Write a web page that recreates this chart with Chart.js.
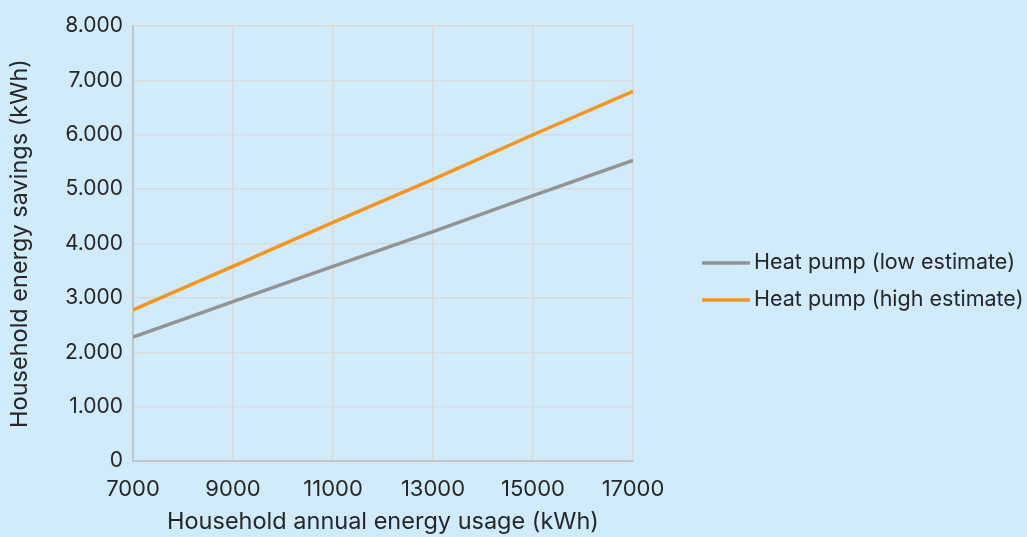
<!DOCTYPE html>
<html>
<head>
<meta charset="utf-8">
<script src="https://cdn.jsdelivr.net/npm/chart.js@4/dist/chart.umd.min.js"></script>
<style>
  html, body { margin: 0; padding: 0; background: #D0ECFC; }
  #wrap { width: 1027px; height: 537px; position: relative; }
</style>
</head>
<body>
<div id="wrap"><canvas id="chart" width="1027" height="537"></canvas></div>
<script>
// Household annual energy usage (kWh) on the x axis
const usage = [7000, 9000, 11000, 13000, 15000, 17000];
// Estimated savings (kWh) for each usage level
const lowEstimate = [2280, 2930, 3580, 4220, 4880, 5530];
const highEstimate = [2780, 3580, 4390, 5180, 6000, 6800];
const seriesNames = ['Heat pump (low estimate)', 'Heat pump (high estimate)'];
const xTicks = [7000, 9000, 11000, 13000, 15000, 17000];
const yTicks = [0, 1000, 2000, 3000, 4000, 5000, 6000, 7000, 8000];

const FONT = 'Inter, "Noto Sans", sans-serif';
const TEXT = '#262626';

const toPoints = vals => usage.map((x, i) => ({ x, y: vals[i] }));

// Legend drawn to the right of the plot: short line sample + label
const sideLegend = {
  id: 'sideLegend',
  afterDraw(chart) {
    const { ctx } = chart;
    const x0 = 702, lineLen = 48, rowY = [263, 300];
    ctx.save();
    chart.data.datasets.forEach((ds, i) => {
      const y = rowY[i];
      ctx.strokeStyle = ds.borderColor;
      ctx.lineWidth = 3.5;
      ctx.beginPath();
      ctx.moveTo(x0, y);
      ctx.lineTo(x0 + lineLen, y);
      ctx.stroke();
      ctx.fillStyle = TEXT;
      ctx.font = '21.5px ' + FONT;
      ctx.textBaseline = 'middle';
      ctx.textAlign = 'left';
      ctx.fillText(ds.label, x0 + lineLen + 4, y);
    });
    ctx.restore();
  }
};

new Chart(document.getElementById('chart'), {
  type: 'line',
  data: {
    datasets: [
      {
        label: seriesNames[0],
        data: toPoints(lowEstimate),
        borderColor: '#939393',
        borderWidth: 3.5,
        pointRadius: 0,
        fill: false,
        tension: 0
      },
      {
        label: seriesNames[1],
        data: toPoints(highEstimate),
        borderColor: '#F7941D',
        borderWidth: 3.5,
        pointRadius: 0,
        fill: false,
        tension: 0
      }
    ]
  },
  plugins: [sideLegend],
  options: {
    responsive: false,
    animation: false,
    layout: { padding: { left: 0, top: 26, right: 394, bottom: 0 } },
    plugins: {
      legend: { display: false },
      tooltip: { enabled: false }
    },
    scales: {
      x: {
        type: 'linear',
        min: 7000,
        max: 17000,
        afterBuildTicks: s => { s.ticks = xTicks.map(v => ({ value: v })); },
        afterFit: s => { s.height = 76; },
        grid: { color: '#DADADA', lineWidth: 1.5, drawTicks: false },
        border: { color: '#C4C4C4', width: 2 },
        ticks: {
          padding: 15,
          color: TEXT,
          font: { family: FONT, size: 22 },
          maxRotation: 0,
          callback: v => String(v)
        },
        title: {
          display: true,
          text: 'Household annual energy usage (kWh)',
          color: TEXT,
          font: { family: FONT, size: 23.5 },
          padding: { top: 0, bottom: 1 }
        }
      },
      y: {
        min: 0,
        max: 8000,
        afterBuildTicks: s => { s.ticks = yTicks.map(v => ({ value: v })); },
        afterFit: s => { s.width = 133; },
        grid: { color: '#DADADA', lineWidth: 1.5, drawTicks: false },
        border: { color: '#C4C4C4', width: 2 },
        ticks: {
          padding: 10,
          color: TEXT,
          font: { family: FONT, size: 21 },
          callback: v => v.toLocaleString('de-DE')
        },
        title: {
          display: true,
          text: 'Household energy savings (kWh)',
          color: TEXT,
          font: { family: FONT, size: 23.5 },
          padding: { top: 6, bottom: 0 }
        }
      }
    }
  }
});
</script>
</body>
</html>
